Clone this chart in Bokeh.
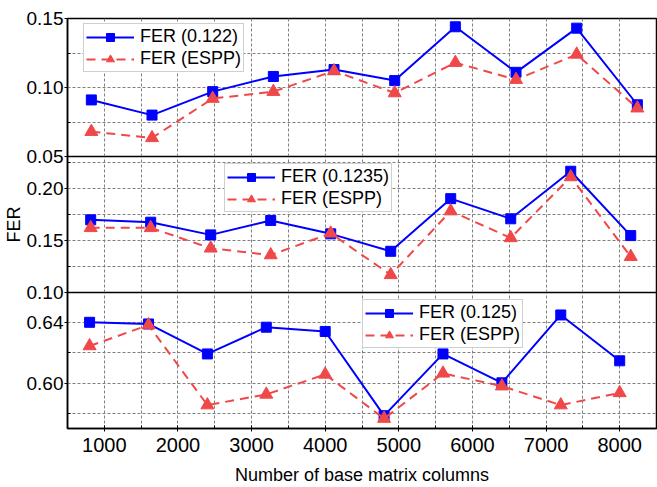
from bokeh.plotting import figure
from bokeh.layouts import column
from bokeh.models import (Legend, LegendItem, FixedTicker, SingleIntervalTicker,
                          Range1d, Grid, PrintfTickFormatter)
from bokeh.embed import file_html
from bokeh.resources import INLINE

FONT = "Liberation Sans"
BLUE = "#0000FF"
RED = "#F04848"
GRID = "#808080"

# ---------------- data ----------------
x_top = [824, 1648, 2472, 3296, 4120, 4944, 5768, 6592, 7416, 8240]
fer_top = [0.091, 0.080, 0.097, 0.108, 0.113, 0.105, 0.144, 0.111, 0.143, 0.0875]
espp_top = [0.068, 0.0635, 0.092, 0.097, 0.112, 0.096, 0.118, 0.1057, 0.124, 0.085]

x_mid = [815, 1630, 2445, 3260, 4075, 4890, 5705, 6520, 7335, 8150]
fer_mid = [0.170, 0.1677, 0.1555, 0.1694, 0.1565, 0.1397, 0.1904, 0.171, 0.2168, 0.1548]
espp_mid = [0.1623, 0.1623, 0.1426, 0.1361, 0.157, 0.117, 0.1784, 0.1526, 0.2113, 0.1345]

x_bot = [800, 1600, 2400, 3200, 4000, 4800, 5600, 6400, 7200, 8000]
fer_bot = [0.640, 0.6389, 0.6193, 0.6368, 0.634, 0.5789, 0.6193, 0.6004, 0.6448, 0.6148]
espp_bot = [0.6245, 0.6382, 0.5858, 0.5928, 0.6059, 0.577, 0.6066, 0.5982, 0.5858, 0.5938]

labels_top = ["FER (0.122)", "FER (ESPP)"]
labels_mid = ["FER (0.1235)", "FER (ESPP)"]
labels_bot = ["FER (0.125)", "FER (ESPP)"]

yticks_top, yminor_top, yr_top = [0.05, 0.10, 0.15], [0.075, 0.125], (0.05, 0.15)
yticks_mid, yminor_mid, yr_mid = [0.10, 0.15, 0.20], [0.125, 0.175, 0.225], (0.10, 0.231)
yticks_bot, yminor_bot, yr_bot = [0.56, 0.60, 0.64, 0.68], [0.58, 0.62], (0.5705, 0.6595)

x_range = Range1d(500, 8500)

W = 657
LEFT = 67
OVER = 12  # overlap so boundary tick labels are not clipped


def panel(height, yr, yticks, yminor, xs, fer, espp, labels, leg_loc,
          top_border, bottom_border, bottom_axis=False, ylabel=None):
    p = figure(width=W, height=height, x_range=x_range,
               y_range=Range1d(*yr), output_backend="svg", toolbar_location=None,
               x_axis_location="below" if bottom_axis else None,
               min_border_left=LEFT, min_border_right=1,
               min_border_top=top_border, min_border_bottom=bottom_border)
    p.border_fill_alpha = 0
    p.outline_line_color = "black"
    p.outline_line_width = 1.5
    p.outline_line_alpha = 1
    for g in p.grid:
        g.visible = False

    p.add_layout(Grid(dimension=0, ticker=SingleIntervalTicker(interval=500),
                      grid_line_color=GRID, grid_line_dash="3 2", grid_line_width=1))
    p.add_layout(Grid(dimension=1, ticker=FixedTicker(ticks=yticks + yminor),
                      grid_line_color=GRID, grid_line_dash="3 2", grid_line_width=1))

    ya = p.yaxis[0]
    ya.ticker = FixedTicker(ticks=yticks, minor_ticks=yminor)
    ya.formatter = PrintfTickFormatter(format="%.2f")
    ya.major_label_text_font = FONT
    ya.major_label_text_font_size = "19px"
    ya.major_label_text_color = "black"
    ya.major_tick_out = 3
    ya.major_tick_in = 0
    ya.minor_tick_in = 3
    ya.minor_tick_out = 0
    ya.major_label_standoff = 1
    ya.axis_line_width = 1.5
    if ylabel:
        ya.axis_label = ylabel
        ya.axis_label_text_font = FONT
        ya.axis_label_text_font_size = "18px"
        ya.axis_label_text_font_style = "normal"
        ya.axis_label_text_color = "black"
        ya.axis_label_standoff = 0

    if bottom_axis:
        xa = p.xaxis[0]
        xa.ticker = SingleIntervalTicker(interval=1000, num_minor_ticks=2)
        xa.major_label_text_font = FONT
        xa.major_label_text_font_size = "20px"
        xa.major_label_text_color = "black"
        xa.major_tick_in = 3
        xa.major_tick_out = 3
        xa.minor_tick_in = 3
        xa.minor_tick_out = 0
        xa.major_label_standoff = 6
        xa.axis_line_width = 1.5
        xa.axis_label = "Number of base matrix columns"
        xa.axis_label_text_font = FONT
        xa.axis_label_text_font_size = "18px"
        xa.axis_label_text_font_style = "normal"
        xa.axis_label_text_color = "black"
        xa.axis_label_standoff = 10

    bl = p.line(xs, fer, line_color=BLUE, line_width=2)
    bs = p.scatter(xs, fer, marker="square", size=10, fill_color=BLUE, line_color=BLUE)
    rl = p.line(xs, espp, line_color=RED, line_width=2, line_dash="9 6")
    rs = p.scatter(xs, espp, marker="triangle", size=13, fill_color=RED, line_color=RED)

    leg = Legend(items=[LegendItem(label=labels[0], renderers=[bl, bs]),
                        LegendItem(label=labels[1], renderers=[rl, rs])],
                 location=leg_loc, label_text_font=FONT, label_text_font_size="18px",
                 label_text_color="black",
                 glyph_width=48, glyph_height=20, label_height=20, label_standoff=6,
                 spacing=1, padding=2, margin=0, border_line_color="#A0A0A0",
                 border_line_width=1, background_fill_color="white", background_fill_alpha=1)
    p.add_layout(leg, "center")
    return p


p1 = panel(18 + 138 + OVER, yr_top, yticks_top, yminor_top, x_top, fer_top, espp_top,
           labels_top, (16, 84), top_border=18, bottom_border=OVER)
p2 = panel(136 + OVER, yr_mid, yticks_mid, yminor_mid, x_mid, fer_mid, espp_mid,
           labels_mid, (157, 80), top_border=0, bottom_border=OVER, ylabel="FER")
p3 = panel(136 + 59, yr_bot, yticks_bot, yminor_bot, x_bot, fer_bot, espp_bot,
           labels_bot, (295, 80), top_border=0, bottom_border=59, bottom_axis=True)

p2.margin = (-OVER, 0, 0, 0)
p3.margin = (-OVER, 0, 0, 0)

layout = column(p1, p2, p3, spacing=0)

open("out.html", "w").write(file_html(layout, INLINE))
